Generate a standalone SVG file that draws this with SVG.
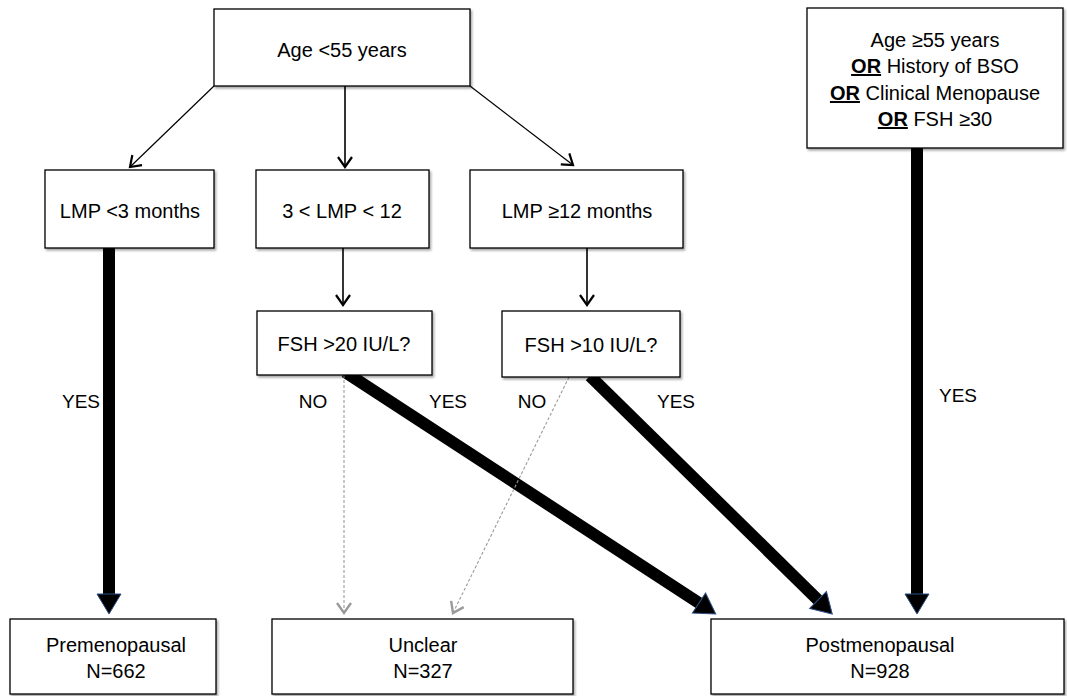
<svg xmlns="http://www.w3.org/2000/svg" width="1067" height="696" viewBox="0 0 1067 696">
<defs>
<filter id="sh" x="-5%" y="-5%" width="110%" height="115%">
<feDropShadow dx="1.5" dy="2" stdDeviation="1" flood-color="#000" flood-opacity="0.35"/>
</filter>
<marker id="thick" markerUnits="userSpaceOnUse" viewBox="0 -12 21 24" refX="0" refY="0" markerWidth="21" markerHeight="24" orient="auto" overflow="visible">
<path d="M0,-12 L20,0 L0,12 z" fill="#000" stroke="#2d4f86" stroke-width="1"/>
</marker>
<marker id="open" markerUnits="userSpaceOnUse" viewBox="-12 -9 14 18" refX="0" refY="0" markerWidth="14" markerHeight="18" orient="auto" overflow="visible">
<path d="M-10,-7 L0,0 L-10,7" fill="none" stroke="#000" stroke-width="2.2"/>
</marker>
<marker id="grey" markerUnits="userSpaceOnUse" viewBox="-12 -9 14 18" refX="0" refY="0" markerWidth="14" markerHeight="18" orient="auto" overflow="visible">
<path d="M-10,-7 L0,0 L-10,7" fill="none" stroke="#9a9a9a" stroke-width="2.4"/>
</marker>
</defs>
<style>
.box{fill:#fff;stroke:#000;stroke-width:1.3;filter:url(#sh)}
.t{font-family:"Liberation Sans",Arial,sans-serif;font-size:20px;fill:#000;text-anchor:middle}
.lbl{font-family:"Liberation Sans",Arial,sans-serif;font-size:19px;fill:#000;text-anchor:middle}
.thin{stroke:#000;stroke-width:1.2;fill:none;marker-end:url(#open)}
.thinv{stroke:#000;stroke-width:1.6;fill:none;marker-end:url(#open)}
.fat{stroke:#000;stroke-width:12;fill:none;marker-end:url(#thick)}
.dot{stroke:#9a9a9a;stroke-width:1.1;stroke-dasharray:3 2;fill:none;marker-end:url(#grey)}
.b{font-weight:bold;text-decoration:underline}
</style>
<rect width="1067" height="696" fill="#fff"/>
<g id="connectors">
<line class="thin" x1="214" y1="86" x2="130" y2="167"/>
<line class="thinv" x1="345" y1="86" x2="345" y2="167"/>
<line class="thin" x1="470" y1="86" x2="573" y2="165"/>
<line class="thinv" x1="343" y1="248" x2="343" y2="305"/>
<line class="thinv" x1="587" y1="248" x2="587" y2="305"/>
<line class="fat" x1="109" y1="248" x2="109" y2="594"/>
<line class="fat" x1="917" y1="148" x2="917" y2="594"/>
<line class="fat" x1="345" y1="372" x2="699" y2="603"/>
<line class="fat" x1="590" y1="376" x2="818" y2="600"/>
<line class="dot" x1="344" y1="375" x2="344" y2="613"/>
<line class="dot" x1="569" y1="377" x2="453" y2="613"/>
</g>
<g id="labels">
<text class="lbl" x="81" y="408">YES</text>
<text class="lbl" x="313" y="408">NO</text>
<text class="lbl" x="448" y="408">YES</text>
<text class="lbl" x="532" y="408">NO</text>
<text class="lbl" x="676" y="408">YES</text>
<text class="lbl" x="958" y="402">YES</text>
</g>
<g id="age-lt-55">
<rect class="box" x="214" y="9" width="256" height="77"/>
<text class="t" x="342" y="57">Age &lt;55 years</text>
</g>
<g id="age-ge-55">
<rect class="box" x="807" y="8" width="256" height="140"/>
<text class="t" x="935" y="47">Age ≥55 years</text>
<text class="t" x="935" y="73"><tspan class="b">OR</tspan> History of BSO</text>
<text class="t" x="935" y="100"><tspan class="b">OR</tspan> Clinical Menopause</text>
<text class="t" x="935" y="126"><tspan class="b">OR</tspan> FSH ≥30</text>
</g>
<g id="lmp-lt-3">
<rect class="box" x="45" y="170" width="169" height="78"/>
<text class="t" x="130" y="218">LMP &lt;3 months</text>
</g>
<g id="lmp-3-12">
<rect class="box" x="256" y="170" width="173" height="78"/>
<text class="t" x="342" y="218">3 &lt; LMP &lt; 12</text>
</g>
<g id="lmp-ge-12">
<rect class="box" x="470" y="170" width="213" height="78"/>
<text class="t" x="577" y="218">LMP ≥12 months</text>
</g>
<g id="fsh-20">
<rect class="box" x="257" y="311" width="175" height="64"/>
<text class="t" x="344" y="351">FSH &gt;20 IU/L?</text>
</g>
<g id="fsh-10">
<rect class="box" x="502" y="311" width="178" height="66"/>
<text class="t" x="591" y="352">FSH &gt;10 IU/L?</text>
</g>
<g id="premenopausal">
<rect class="box" x="10" y="619" width="206" height="75"/>
<text class="t" x="116" y="652">Premenopausal</text>
<text class="t" x="116" y="678">N=662</text>
</g>
<g id="unclear">
<rect class="box" x="272" y="619" width="301" height="75"/>
<text class="t" x="423" y="652">Unclear</text>
<text class="t" x="423" y="678">N=327</text>
</g>
<g id="postmenopausal">
<rect class="box" x="711" y="619" width="353" height="75"/>
<text class="t" x="880" y="652">Postmenopausal</text>
<text class="t" x="880" y="678">N=928</text>
</g>
</svg>
